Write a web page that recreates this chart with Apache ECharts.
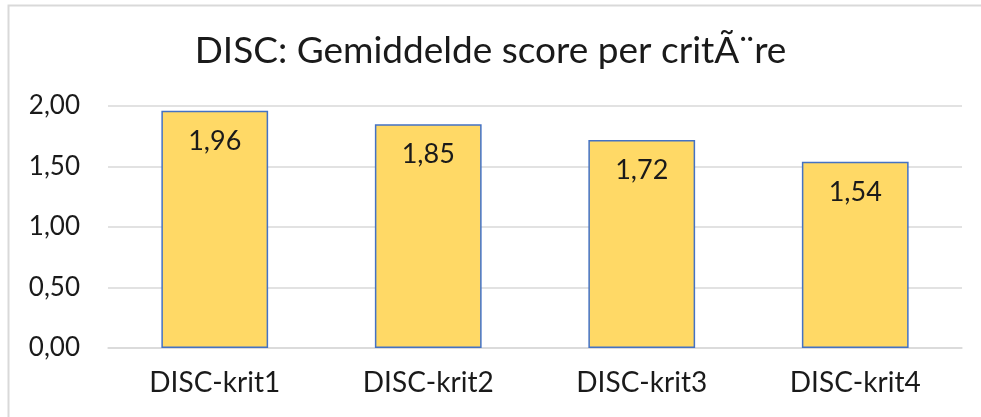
<!DOCTYPE html>
<html>
<head>
<meta charset="utf-8">
<script src="https://cdn.jsdelivr.net/npm/echarts@6/dist/echarts.min.js"></script>
<style>
  html, body { margin: 0; padding: 0; background: #fff; }
  #chart { width: 981px; height: 417px; }
</style>
</head>
<body>
<div id="chart"></div>
<script>
var categories = ['DISC-krit1', 'DISC-krit2', 'DISC-krit3', 'DISC-krit4'];
var scores = [1.96, 1.85, 1.72, 1.54];
var yTicks = [0, 0.5, 1, 1.5, 2];

function komma(v) {
    return v.toFixed(2).replace('.', ',');
}

var fontFam = 'Lato, "Open Sans", sans-serif';

var option = {
    backgroundColor: '#fff',
    animation: false,
    graphic: [{
        type: 'rect',
        shape: { x: 8.5, y: 5.5, width: 990, height: 430 },
        style: { fill: 'none', stroke: '#d9d9d9', lineWidth: 2 },
        silent: true
    }],
    title: {
        text: 'DISC: Gemiddelde score per critÃ¨re',
        left: 'center',
        top: 28,
        textStyle: { fontFamily: fontFam, fontSize: 37, fontWeight: 'normal', color: '#1a1a1a' }
    },
    grid: { left: 108, right: 19, top: 106, bottom: 69 },
    xAxis: {
        type: 'category',
        data: categories,
        axisTick: { show: false },
        axisLine: { lineStyle: { color: '#d9d9d9', width: 1.5 } },
        axisLabel: { fontFamily: fontFam, fontSize: 28, color: '#1a1a1a', margin: 21 }
    },
    yAxis: {
        type: 'value',
        min: yTicks[0],
        max: yTicks[yTicks.length - 1],
        interval: 0.5,
        axisLine: { show: false },
        axisTick: { show: false },
        splitLine: { lineStyle: { color: '#d9d9d9', width: 1.5 } },
        axisLabel: {
            fontFamily: fontFam, fontSize: 26, color: '#1a1a1a', margin: 28,
            formatter: function (v) { return komma(v); }
        }
    },
    series: [{
        type: 'bar',
        data: scores,
        barWidth: '50%',
        itemStyle: { color: '#ffd966', borderColor: '#4472c4', borderWidth: 1.5 },
        label: {
            show: true,
            position: 'insideTop',
            distance: 17,
            fontFamily: fontFam,
            fontSize: 27,
            color: '#1a1a1a',
            formatter: function (p) { return komma(p.value); }
        }
    }]
};

var chart = echarts.init(document.getElementById('chart'));
chart.setOption(option);
</script>
</body>
</html>
